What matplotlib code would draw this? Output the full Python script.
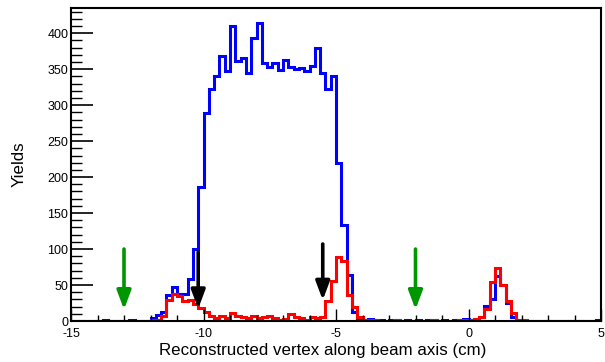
import numpy as np
import matplotlib
matplotlib.use("Agg")
import matplotlib.pyplot as plt
from matplotlib.ticker import MultipleLocator

plt.rcParams['font.family'] = ['Liberation Sans', 'DejaVu Sans']
plt.rcParams['axes.unicode_minus'] = False

# ---- histogram binning (100 bins of 0.2 cm from -15 to 5)
x_lo, x_hi, n_bins = -15.0, 5.0, 100
edges = np.linspace(x_lo, x_hi, n_bins + 1)

# ---- bin contents
blue_counts = [
    0, 0, 0, 0, 0, 0, 1, 0, 0, 0,
    0, 1, 0, 0, 0, 4, 8, 13, 36, 47,
    37, 37, 58, 100, 186, 289, 322, 341, 368, 348,
    410, 361, 365, 345, 393, 414, 358, 353, 359, 349,
    363, 353, 350, 352, 348, 355, 379, 345, 323, 340,
    219, 133, 64, 13, 4, 2, 3, 2, 1, 0,
    2, 1, 0, 1, 0, 1, 0, 2, 1, 0,
    1, 0, 2, 1, 3, 2, 3, 6, 21, 31,
    63, 50, 25, 6, 1, 0, 0, 0, 0, 0,
    0, 0, 0, 0, 0, 0, 0, 0, 0, 1,
]
red_counts = [
    0, 0, 0, 0, 0, 0, 0, 0, 0, 0,
    0, 0, 0, 0, 0, 1, 2, 7, 29, 37,
    35, 28, 29, 23, 18, 12, 7, 4, 7, 4,
    11, 7, 6, 4, 7, 4, 5, 7, 4, 2,
    3, 10, 5, 4, 2, 6, 4, 6, 28, 55,
    89, 84, 36, 20, 5, 2, 1, 1, 0, 0,
    0, 1, 0, 0, 0, 0, 0, 0, 1, 0,
    0, 0, 0, 1, 2, 1, 3, 5, 16, 54,
    74, 50, 28, 11, 2, 1, 0, 0, 0, 0,
    0, 0, 0, 0, 0, 0, 0, 0, 0, 0,
]

# ---- cut arrows: (x position, top, tip)
green_cuts = [-13.0, -2.0]
green_top, green_tip = 100, 16
black_cuts = [-10.2, -5.5]
black_tops = [96, 107]
black_tips = [17, 29]

fig = plt.figure(figsize=(6.05, 3.62), dpi=100)
ax = fig.add_axes([71/605, 1-321/362, 530/605, 313/362])

ax.stairs(blue_counts, edges, color='#0000ff', lw=2.2, baseline=0)
ax.stairs(red_counts, edges, color='#ff0000', lw=2.2, baseline=0)

def arrow(x, top, tip, col):
    ax.annotate('', xy=(x, tip), xytext=(x, top),
                arrowprops=dict(arrowstyle='-|>,head_length=0.8,head_width=0.3',
                                color=col, lw=2.6, shrinkA=0, shrinkB=0,
                                mutation_scale=14))

for xc in green_cuts:
    arrow(xc, green_top, green_tip, '#009600')
for xc, t, b in zip(black_cuts, black_tops, black_tips):
    arrow(xc, t, b, 'black')

ax.set_xlim(x_lo, x_hi)
ax.set_ylim(0, 435)

ax.xaxis.set_major_locator(MultipleLocator(5))
ax.xaxis.set_minor_locator(MultipleLocator(1))
ax.yaxis.set_major_locator(MultipleLocator(50))
ax.yaxis.set_minor_locator(MultipleLocator(10))

ax.tick_params(axis='x', which='major', direction='in', length=9, width=1, labelsize=9, pad=5)
ax.tick_params(axis='x', which='minor', direction='in', length=4.5, width=1)
ax.tick_params(axis='y', which='major', direction='in', length=16, width=1.2, labelsize=9, pad=2)
ax.tick_params(axis='y', which='minor', direction='in', length=8, width=1)
ax.tick_params(top=False, right=False)

for s in ax.spines.values():
    s.set_linewidth(1.5)

ax.set_xlabel('Reconstructed vertex along beam axis (cm)', fontsize=12.2)
ax.xaxis.set_label_coords((323 - 71) / 530, -0.07)
ax.set_ylabel('Yields', fontsize=12.2)
ax.yaxis.set_label_coords(-0.083, 0.5)

fig.savefig('out.png', dpi=100)
